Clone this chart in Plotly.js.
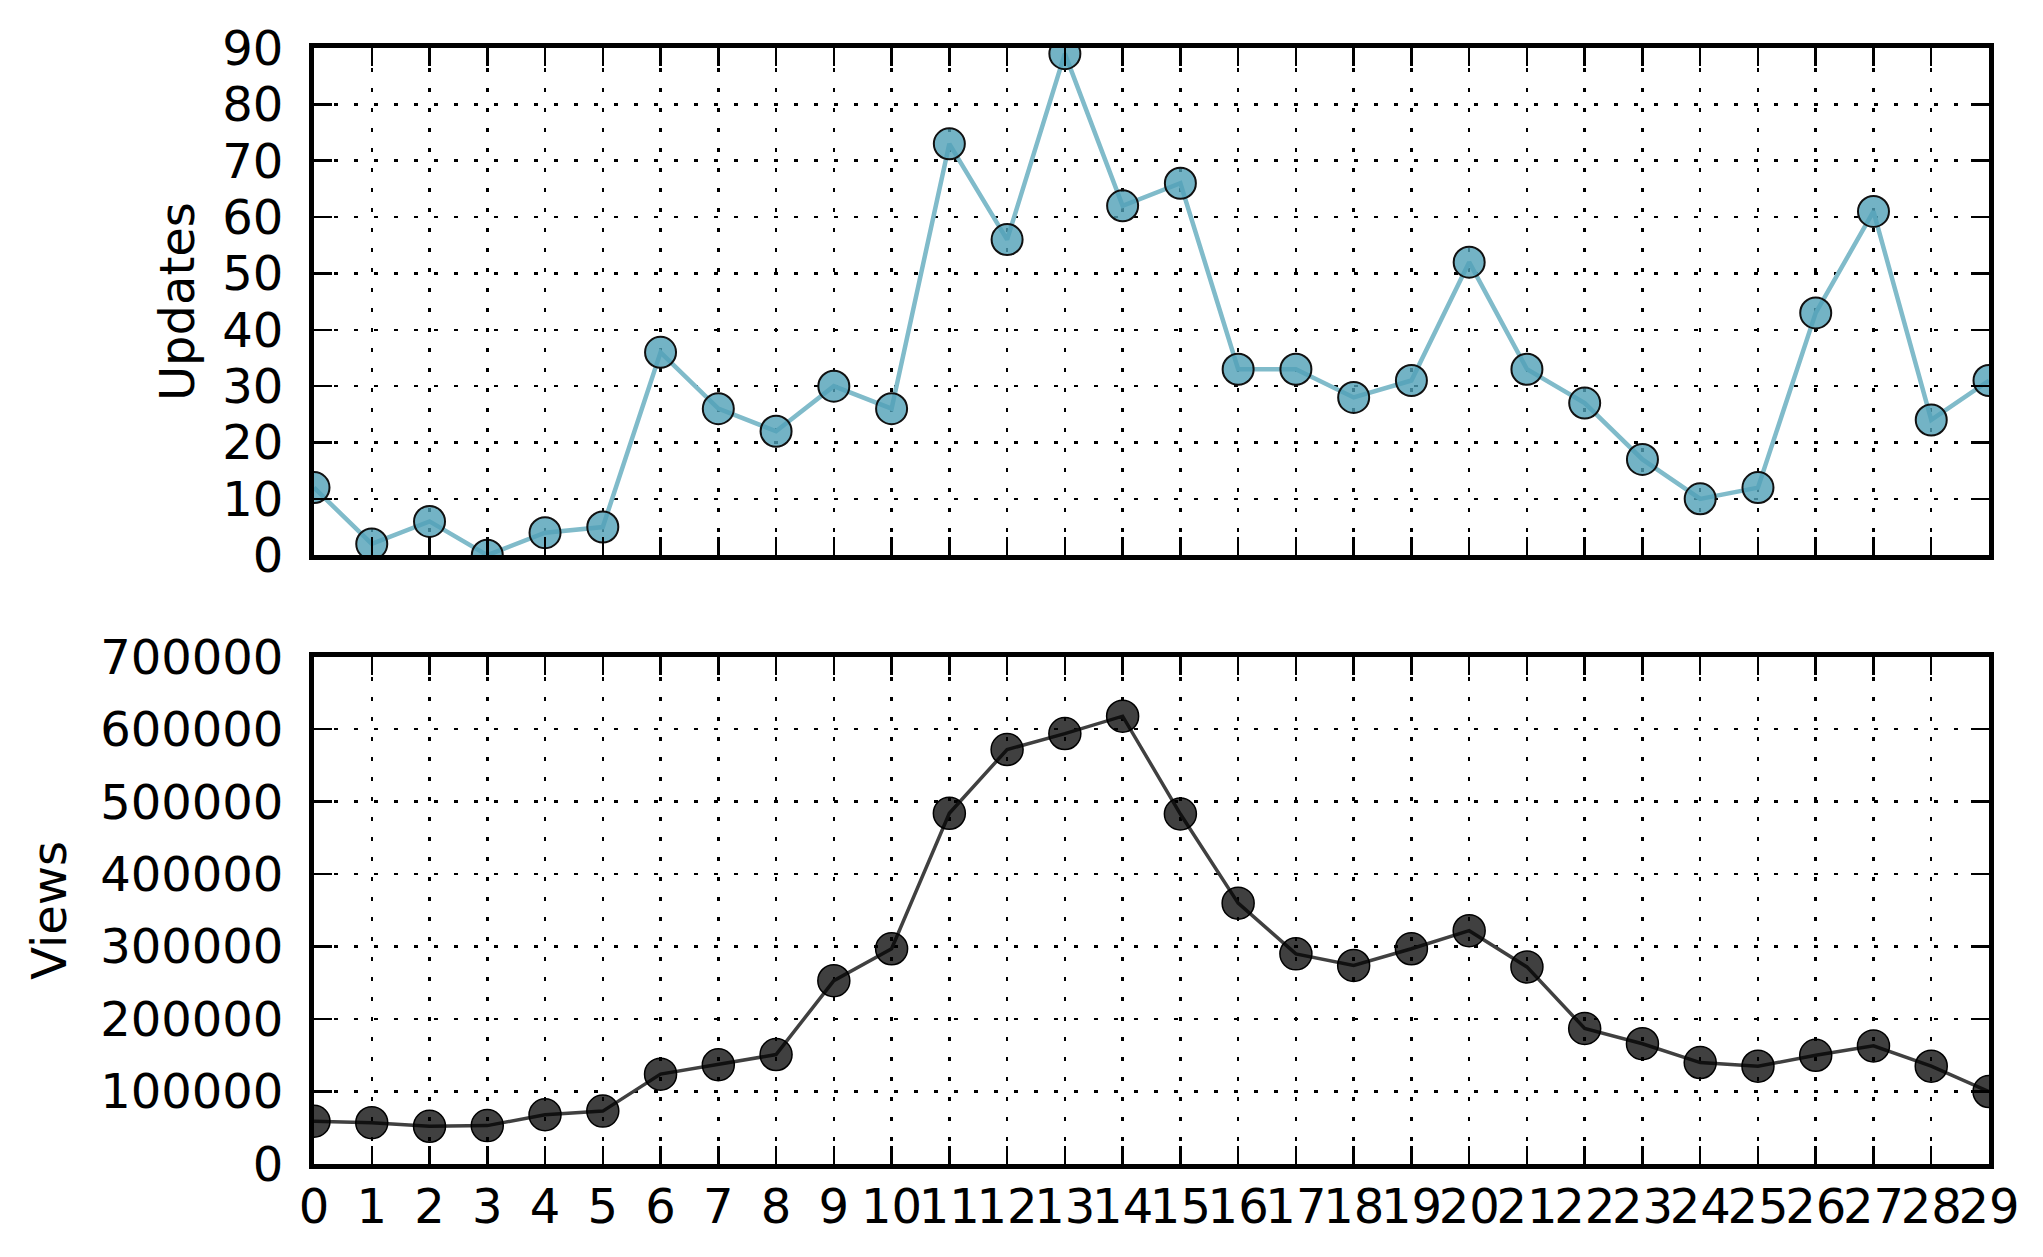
<!DOCTYPE html>
<html>
<head>
<meta charset="utf-8">
<script src="https://cdn.plot.ly/plotly-3.0.1.min.js"></script>
<style>
  html, body { margin: 0; padding: 0; background: #fff; }
  #chart { width: 2043px; height: 1257px; }
</style>
</head>
<body>
<div id="chart"></div>
<script>
// day index on the x axis
var days = [];
for (var i = 0; i < 30; i++) days.push(i);

// values
var updates = [12, 2, 6, 0, 4, 5, 36, 26, 22, 30, 26, 73, 56, 89, 62,
               66, 33, 33, 28, 31, 52, 33, 27, 17, 10, 12, 43, 61, 24, 31];
var views = [59000, 57000, 52000, 53000, 68000, 73000, 124000, 137000, 151000, 253000,
             297000, 484000, 572000, 594000, 618000, 483000, 360000, 290000, 274000, 297000,
             322000, 272000, 187000, 166000, 140000, 135000, 150000, 163000, 135000, 100000];

var updTicks = [0, 10, 20, 30, 40, 50, 60, 70, 80, 90];
var viewTicks = [0, 100000, 200000, 300000, 400000, 500000, 600000, 700000];

var fnt = { family: 'DejaVu Sans', size: 48, color: '#000' };

var data = [
    {
        x: days, y: updates,
        xaxis: 'x', yaxis: 'y',
        mode: 'lines+markers', type: 'scatter',
        line: { color: '#80bbca', width: 4.5 },
        marker: { size: 31, color: 'rgba(80,160,182,0.8)', line: { color: '#111', width: 2 } },
        name: 'Updates'
    },
    {
        x: days, y: views,
        xaxis: 'x2', yaxis: 'y2',
        mode: 'lines+markers', type: 'scatter',
        line: { color: '#404040', width: 3.5 },
        marker: { size: 32, color: 'rgba(0,0,0,0.75)', line: { color: '#000', width: 1.5 } },
        name: 'Views'
    }
];

// shared style for every axis: box frame, inside ticks, dotted grid
function ax(extra) {
    var base = {
        showline: true, linecolor: '#000', linewidth: 5, mirror: 'ticks',
        ticks: 'inside', ticklen: 18, tickwidth: 2.5, tickcolor: '#000',
        showgrid: true, gridcolor: '#000', gridwidth: 2.5, griddash: '4px,16px',
        zeroline: false, tickfont: fnt, ticklabelstandoff: 16, tickangle: 0
    };
    for (var k in extra) base[k] = extra[k];
    return base;
}

var layout = {
    width: 2043, height: 1257,
    paper_bgcolor: '#fff', plot_bgcolor: '#fff',
    showlegend: false,
    font: fnt,
    margin: { l: 314, r: 54, t: 48, b: 93 },
    xaxis: ax({ domain: [0, 1], range: [0, 29], tickvals: days, showticklabels: false, anchor: 'y' }),
    yaxis: ax({ domain: [0.5455, 1], range: [0, 90], tickvals: updTicks, anchor: 'x',
                title: { text: 'Updates', font: fnt, standoff: 14 } }),
    xaxis2: ax({ domain: [0, 1], range: [0, 29], tickvals: days, anchor: 'y2', ticklabelstandoff: -4 }),
    yaxis2: ax({ domain: [0, 0.4545], range: [0, 700000], tickvals: viewTicks, anchor: 'x2',
                 tickformat: 'd', title: { text: 'Views', font: fnt, standoff: 20 } })
};

Plotly.newPlot('chart', data, layout, { staticPlot: true });
</script>
</body>
</html>
